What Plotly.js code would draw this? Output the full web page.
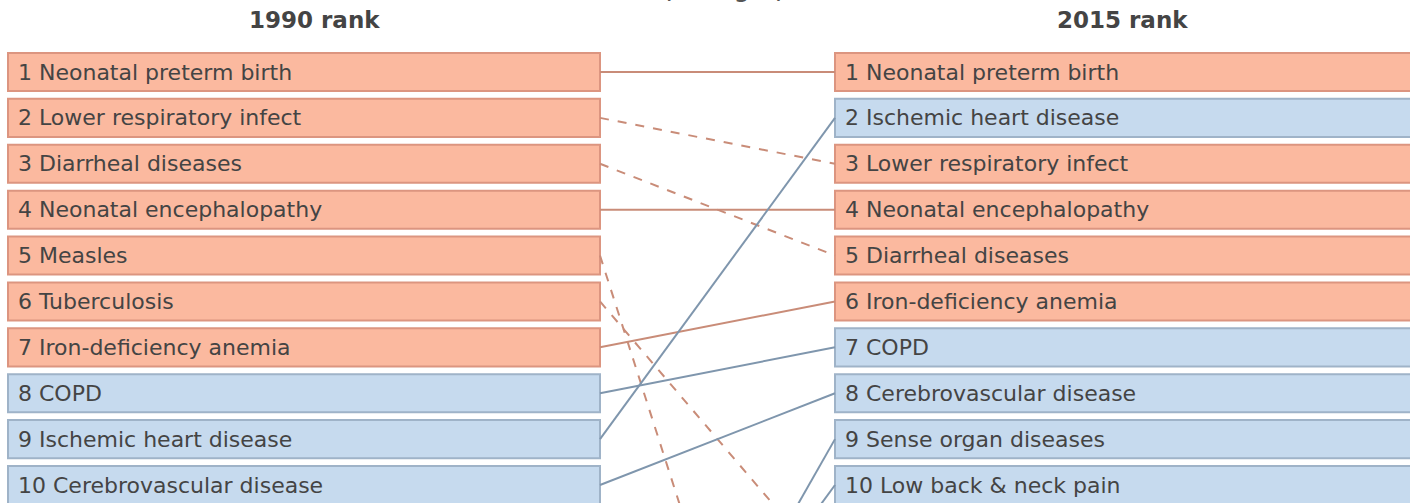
<!DOCTYPE html>
<html>
<head>
<meta charset="utf-8">
<script src="https://cdn.plot.ly/plotly-3.0.1.min.js"></script>
<style>html,body{margin:0;padding:0;background:#fff;}#chart{width:1410px;height:503px;}</style>
</head>
<body>
<div id="chart"></div>
<script>
// ---- data ----
var causes = ["Neonatal preterm birth","Lower respiratory infect","Diarrheal diseases","Neonatal encephalopathy","Measles","Tuberculosis","Iron-deficiency anemia","COPD","Ischemic heart disease","Cerebrovascular disease","Sense organ diseases","Low back & neck pain"];
var rank1990 = [1,2,3,4,5,6,7,8,9,10,18,17];
var rank2015 = [1,3,5,4,21,12,6,7,2,8,9,10];
var group = ["cmnn","cmnn","cmnn","cmnn","cmnn","cmnn","cmnn","ncd","ncd","ncd","ncd","ncd"];
var headers = ["1990 rank","2015 rank"];
var chartTitle = "Females, All ages, DALYs";

// ---- styling / layout constants ----
var fill = {cmnn:"#fbb99f", ncd:"#c6daee"};
var edge = {cmnn:"#dc9580", ncd:"#9fb3c8"};
var lineCol = {cmnn:"#c98c78", ncd:"#7f96ad"};
var L0 = 8, L1 = 600, R0 = 835, R1 = 1600;
var BOX_H = 0.83;
var FAMILY = "DejaVu Sans, Verdana, sans-serif";

var traces = [];
// connecting lines
for (var i = 0; i < causes.length; i++) {
  traces.push({
    type:"scatter", mode:"lines", x:[L1, R0], y:[rank1990[i], rank2015[i]],
    line:{color:lineCol[group[i]], width:2, dash: rank2015[i] > rank1990[i] ? "dash" : "solid"},
    hoverinfo:"skip", showlegend:false
  });
}
// boxes
function boxes(ranks, x0, x1) {
  return {
    type:"bar", orientation:"h", y:ranks, x:ranks.map(function(){return x1 - x0;}),
    base:x0, width:BOX_H,
    marker:{color:group.map(function(g){return fill[g];}), line:{color:group.map(function(g){return edge[g];}), width:2}},
    hoverinfo:"skip", showlegend:false
  };
}
traces.push(boxes(rank1990, L0, L1));
traces.push(boxes(rank2015, R0, R1));

var annotations = [];
var font = {family:FAMILY, size:22, color:"#444"};
for (var j = 0; j < causes.length; j++) {
  annotations.push({x:L0 + 8, y:rank1990[j], xref:"x", yref:"y", text:rank1990[j] + " " + causes[j], showarrow:false, xanchor:"left", yanchor:"middle", font:font});
  annotations.push({x:R0 + 8, y:rank2015[j], xref:"x", yref:"y", text:rank2015[j] + " " + causes[j], showarrow:false, xanchor:"left", yanchor:"middle", font:font});
}
var hfont = {family:FAMILY, size:23, color:"#444"};
annotations.push({x:314, y:1, xref:"x", yref:"paper", text:"<b>" + headers[0] + "</b>", showarrow:false, xanchor:"center", yanchor:"top", yshift:-5, font:hfont});
annotations.push({x:1122, y:1, xref:"x", yref:"paper", text:"<b>" + headers[1] + "</b>", showarrow:false, xanchor:"center", yanchor:"top", yshift:-5, font:hfont});
annotations.push({x:716, y:1, xref:"x", yref:"paper", text:"<b>" + chartTitle + "</b>", showarrow:false, xanchor:"center", yanchor:"bottom", yshift:-5, font:{family:FAMILY, size:21, color:"#555"}});

var layout = {
  width:1410, height:503,
  margin:{l:0, r:0, t:0, b:0, pad:0},
  paper_bgcolor:"#fff", plot_bgcolor:"#fff",
  barmode:"overlay",
  xaxis:{range:[0,1410], visible:false, fixedrange:true},
  yaxis:{range:[10.392, -0.569], autorange:false, visible:false, fixedrange:true},
  annotations:annotations,
  showlegend:false
};
Plotly.newPlot("chart", traces, layout, {displayModeBar:false, staticPlot:true});
</script>
</body>
</html>
